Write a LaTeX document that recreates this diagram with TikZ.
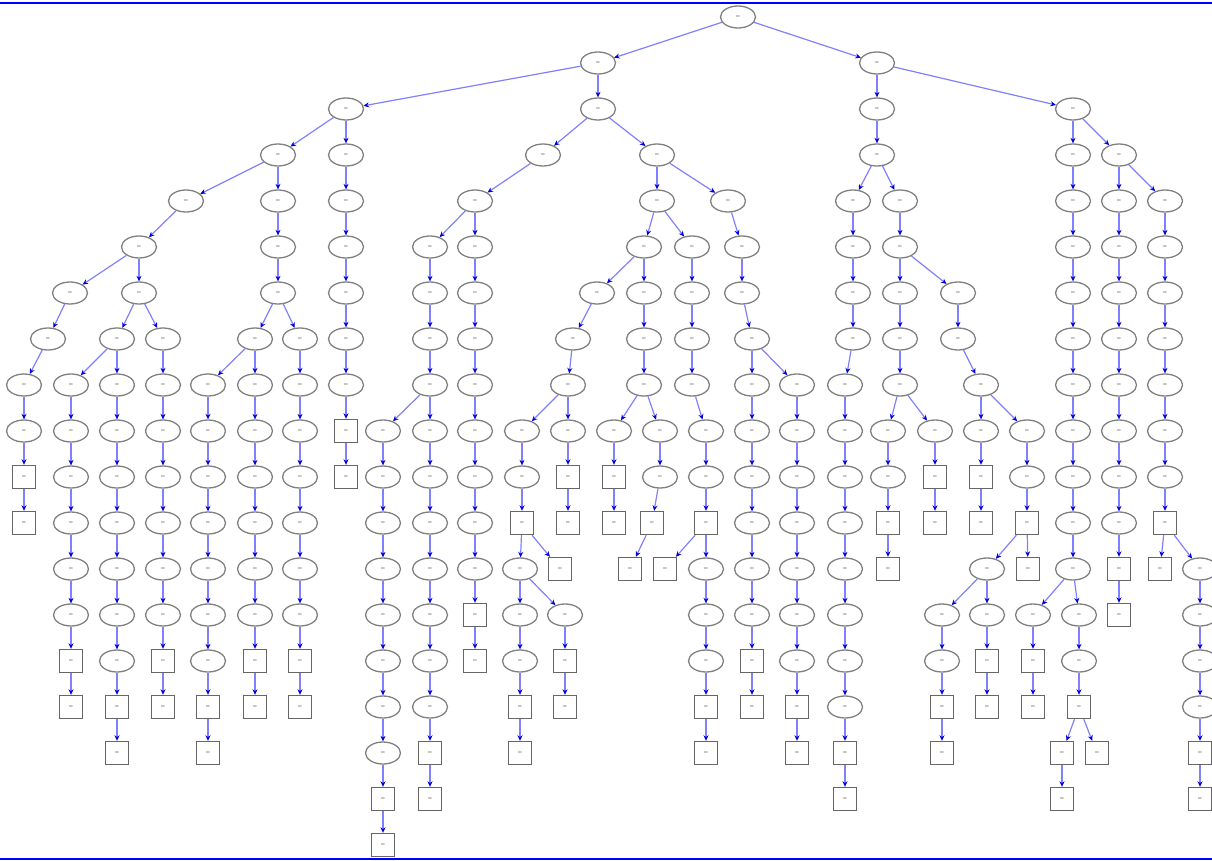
\documentclass[tikz,border=0pt]{standalone}
\usetikzlibrary{shapes.geometric,arrows.meta}
\tikzset{
  el/.style={ellipse,draw=black!50,line width=1.3pt,minimum width=35pt,minimum height=22pt,inner sep=0pt,font=\fontsize{4}{4}\selectfont\bfseries,text=black!65},
  bx/.style={rectangle,draw=black!60,line width=1.4pt,minimum width=23pt,minimum height=23pt,inner sep=0pt,font=\fontsize{4}{4}\selectfont\bfseries,text=black!65},
  edge/.style={draw=blue!50,line width=1.2pt,-{Stealth[length=5.5pt,width=5pt,color=blue!85!black]}},
  frameline/.style={draw=blue}
}
\newcommand{\vcol}[5]{%
  \foreach \k in {#3,...,#5}{%
    \ifnum\k>#4\relax
      \node[bx] (#1-\k) at (#2,{17+46*\k}) {=};%
    \else
      \node[el] (#1-\k) at (#2,{17+46*\k}) {=};%
    \fi
    \ifnum\k>#3\relax
      \pgfmathtruncatemacro{\kp}{\k-1}%
      \draw[edge] (#1-\kp) -- (#1-\k);%
    \fi
  }%
}
\newcommand{\edg}[2]{\draw[edge] (#1) -- (#2);}
\begin{document}
\begin{tikzpicture}[x=1pt,y=-1pt]
\useasboundingbox (0,0) rectangle (1212,861);
\draw[frameline,line width=2.4pt] (0,3) -- (1212,3);
\draw[frameline,line width=1.3pt] (0,859) -- (1212,859);
% columns: name, x, first level, last ellipse level, last box level
\vcol{R}{738}{0}{0}{0}
\vcol{cA}{598}{1}{2}{2}
\vcol{cB}{877}{1}{3}{3}
% A1 subtree
\vcol{c346}{346}{2}{8}{10}
\vcol{c278}{278}{3}{6}{6}
\vcol{c186}{186}{4}{4}{4}
\vcol{c139}{139}{5}{6}{6}
\vcol{c70}{70}{6}{6}{6}
\vcol{c48}{48}{7}{7}{7}
\vcol{c24}{24}{8}{9}{11}
\vcol{c117}{117}{7}{14}{16}
\vcol{c71}{71}{8}{13}{15}
\vcol{c163}{163}{7}{13}{15}
\vcol{c255}{255}{7}{13}{15}
\vcol{c208}{208}{8}{14}{16}
\vcol{c300}{300}{7}{13}{15}
% A2 subtree
\vcol{c543}{543}{3}{3}{3}
\vcol{c475}{475}{4}{12}{14}
\vcol{c430}{430}{5}{15}{17}
\vcol{c383}{383}{9}{16}{18}
\vcol{c657}{657}{3}{4}{4}
\vcol{c728}{728}{4}{4}{4}
\vcol{c644}{644}{5}{8}{8}
\vcol{c597}{597}{6}{6}{6}
\vcol{c573}{573}{7}{7}{7}
\vcol{c568}{568}{8}{9}{11}
\vcol{c522}{522}{9}{10}{11}
\vcol{c520}{520}{12}{14}{16}
\vcol{c560}{560}{12}{11}{12}
\vcol{c565}{565}{13}{13}{15}
\vcol{c614}{614}{9}{9}{11}
\vcol{c660}{660}{9}{10}{10}
\vcol{c652}{652}{11}{10}{11}
\vcol{c630}{630}{12}{11}{12}
\vcol{c692}{692}{5}{8}{8}
\vcol{c706}{706}{9}{10}{11}
\vcol{c706b}{706}{12}{14}{16}
\vcol{c665}{665}{12}{11}{12}
\vcol{c742}{742}{5}{6}{6}
\vcol{c752}{752}{7}{13}{15}
\vcol{c797}{797}{8}{14}{16}
% B subtree
\vcol{c853}{853}{4}{7}{7}
\vcol{c845}{845}{8}{15}{17}
\vcol{c900}{900}{4}{8}{8}
\vcol{c888}{888}{9}{10}{12}
\vcol{c935}{935}{9}{9}{11}
\vcol{c958}{958}{6}{7}{7}
\vcol{c981}{981}{8}{9}{11}
\vcol{c1027}{1027}{9}{10}{11}
\vcol{c987}{987}{12}{13}{15}
\vcol{c1028}{1028}{12}{11}{12}
\vcol{c942}{942}{13}{14}{16}
\vcol{c1073}{1073}{2}{12}{12}
\vcol{c1033}{1033}{13}{13}{15}
\vcol{c1079}{1079}{13}{14}{15}
\vcol{c1062}{1062}{16}{15}{17}
\vcol{c1097}{1097}{16}{15}{16}
\vcol{c1119}{1119}{3}{11}{13}
\vcol{c1165}{1165}{4}{10}{11}
\vcol{c1160}{1160}{12}{11}{12}
\vcol{c1200}{1200}{12}{15}{17}
% cross edges
\edg{R-0}{cA-1}
\edg{R-0}{cB-1}
\edg{cA-1}{c346-2}
\edg{c346-2}{c278-3}
\edg{c278-3}{c186-4}
\edg{c186-4}{c139-5}
\edg{c139-5}{c70-6}
\edg{c70-6}{c48-7}
\edg{c48-7}{c24-8}
\edg{c139-6}{c117-7}
\edg{c139-6}{c163-7}
\edg{c117-7}{c71-8}
\edg{c278-6}{c255-7}
\edg{c278-6}{c300-7}
\edg{c255-7}{c208-8}
\edg{cA-2}{c543-3}
\edg{cA-2}{c657-3}
\edg{c543-3}{c475-4}
\edg{c475-4}{c430-5}
\edg{c430-8}{c383-9}
\edg{c657-3}{c728-4}
\edg{c728-4}{c742-5}
\edg{c657-4}{c644-5}
\edg{c657-4}{c692-5}
\edg{c644-5}{c597-6}
\edg{c597-6}{c573-7}
\edg{c573-7}{c568-8}
\edg{c568-8}{c522-9}
\edg{c522-11}{c520-12}
\edg{c522-11}{c560-12}
\edg{c520-12}{c565-13}
\edg{c644-8}{c614-9}
\edg{c644-8}{c660-9}
\edg{c660-10}{c652-11}
\edg{c652-11}{c630-12}
\edg{c692-8}{c706-9}
\edg{c706-11}{c706b-12}
\edg{c706-11}{c665-12}
\edg{c742-6}{c752-7}
\edg{c752-7}{c797-8}
\edg{cB-3}{c853-4}
\edg{cB-3}{c900-4}
\edg{c853-7}{c845-8}
\edg{c900-5}{c958-6}
\edg{c900-8}{c888-9}
\edg{c900-8}{c935-9}
\edg{c958-7}{c981-8}
\edg{c981-8}{c1027-9}
\edg{c1027-11}{c987-12}
\edg{c1027-11}{c1028-12}
\edg{c987-12}{c942-13}
\edg{cB-1}{c1073-2}
\edg{c1073-2}{c1119-3}
\edg{c1073-12}{c1033-13}
\edg{c1073-12}{c1079-13}
\edg{c1079-15}{c1062-16}
\edg{c1079-15}{c1097-16}
\edg{c1119-3}{c1165-4}
\edg{c1165-11}{c1160-12}
\edg{c1165-11}{c1200-12}
\end{tikzpicture}
\end{document}
